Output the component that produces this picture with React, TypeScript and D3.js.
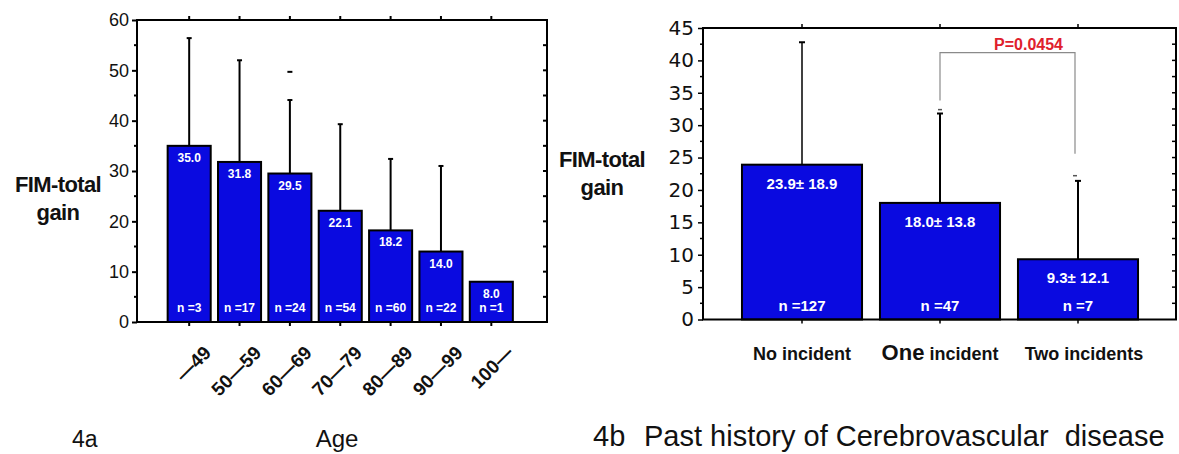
import { useEffect, useRef } from 'react';
import * as d3 from 'd3';

// 4a: FIM-total gain by age group
const ageGroups = ['—49', '50—59', '60—69', '70—79', '80—89', '90—99', '100—'];
const ageMeans = [35.0, 31.8, 29.5, 22.1, 18.2, 14.0, 8.0];
const ageSD = [21.4, 20.2, 14.6, 17.2, 14.2, 17.0, 0];
const ageN = [3, 17, 24, 54, 60, 22, 1];
const ageStrayMarks = [null, null, 49.7, null, null, null, null];

// 4b: past history of cerebrovascular disease
const historyGroups = ['No incident', 'One incident', 'Two incidents'];
const historyMeans = [23.9, 18.0, 9.3];
const historySD = [18.9, 13.8, 12.1];
const historyN = [127, 47, 7];
const bracketLevels = [41.2, 33.8, 25.6]; // top, left leg end, right leg end
const bracketMarks = [32.4, 22.2];
const pValueLabel = 'P=0.0454';

const BLUE = '#0a0ae0';
const ARIAL = 'Arial, "Liberation Sans", sans-serif';

export default function App() {
    const svgRef = useRef(null);

    useEffect(() => {
        const svg = d3.select(svgRef.current);
        svg.selectAll('*').remove();

        // ---------- 4a ----------
        const L = { left: 137, right: 547, top: 20, bottom: 322 };
        const yL = d3.scaleLinear().domain([0, 60]).range([L.bottom, L.top]);
        const xL = d3.scaleBand()
            .domain(ageGroups)
            .range([164, 516.5])
            .paddingInner(0.145)
            .paddingOuter(0.0725);

        const gL = svg.append('g');

        // bars
        gL.selectAll('.barL')
            .data(ageGroups)
            .enter()
            .append('rect')
            .attr('x', d => xL(d))
            .attr('width', xL.bandwidth())
            .attr('y', (d, i) => yL(ageMeans[i]))
            .attr('height', (d, i) => yL(0) - yL(ageMeans[i]))
            .attr('fill', BLUE)
            .attr('stroke', '#000')
            .attr('stroke-width', 2);

        // error bars (upper half only)
        ageGroups.forEach((d, i) => {
            if (!ageSD[i]) return;
            const cx = xL(d) + xL.bandwidth() / 2;
            const top = yL(ageMeans[i] + ageSD[i]);
            gL.append('line')
                .attr('x1', cx).attr('x2', cx)
                .attr('y1', yL(ageMeans[i])).attr('y2', top)
                .attr('stroke', '#000').attr('stroke-width', 2);
            gL.append('line')
                .attr('x1', cx - 2.5).attr('x2', cx + 2.5)
                .attr('y1', top).attr('y2', top)
                .attr('stroke', '#000').attr('stroke-width', 2);
        });
        ageGroups.forEach((d, i) => {
            if (ageStrayMarks[i] == null) return;
            const cx = xL(d) + xL.bandwidth() / 2;
            gL.append('line')
                .attr('x1', cx - 2.5).attr('x2', cx + 2.5)
                .attr('y1', yL(ageStrayMarks[i])).attr('y2', yL(ageStrayMarks[i]))
                .attr('stroke', '#000').attr('stroke-width', 2);
        });

        // in-bar labels
        gL.selectAll('.valL')
            .data(ageGroups)
            .enter()
            .append('text')
            .attr('x', d => xL(d) + xL.bandwidth() / 2)
            .attr('y', (d, i) => yL(ageMeans[i]) + 16)
            .attr('text-anchor', 'middle')
            .style('font-family', ARIAL)
            .style('font-size', '12px')
            .style('font-weight', 'bold')
            .style('fill', '#fff')
            .text((d, i) => ageMeans[i].toFixed(1));
        gL.selectAll('.nL')
            .data(ageGroups)
            .enter()
            .append('text')
            .attr('x', d => xL(d) + xL.bandwidth() / 2)
            .attr('y', yL(0) - 10)
            .attr('text-anchor', 'middle')
            .style('font-family', ARIAL)
            .style('font-size', '12px')
            .style('font-weight', 'bold')
            .style('fill', '#fff')
            .text((d, i) => `n =${ageN[i]}`);

        // frame
        gL.append('rect')
            .attr('x', L.left).attr('y', L.top)
            .attr('width', L.right - L.left).attr('height', L.bottom - L.top)
            .attr('fill', 'none').attr('stroke', '#000').attr('stroke-width', 2);

        // left axis
        gL.append('g')
            .attr('transform', `translate(${L.left},0)`)
            .call(d3.axisLeft(yL).tickValues(d3.range(0, 61, 10)).tickSize(5).tickPadding(3))
            .call(g => {
                g.select('.domain').remove();
                g.selectAll('line').attr('stroke-width', 2);
                g.selectAll('text')
                    .style('font-family', ARIAL)
                    .style('font-size', '18px')
                    .style('fill', '#111');
            });
        gL.append('g')
            .selectAll('line')
            .data(d3.range(5, 60, 10))
            .enter()
            .append('line')
            .attr('x1', L.left - 3).attr('x2', L.left)
            .attr('y1', d => yL(d)).attr('y2', d => yL(d))
            .attr('stroke', '#000').attr('stroke-width', 2);

        // right axis inner ticks
        gL.append('g')
            .selectAll('line')
            .data(d3.range(5, 60, 5))
            .enter()
            .append('line')
            .attr('x1', L.right - 4).attr('x2', L.right)
            .attr('y1', d => yL(d)).attr('y2', d => yL(d))
            .attr('stroke', '#000').attr('stroke-width', 2);

        // category ticks, top & bottom
        ageGroups.forEach(d => {
            const cx = xL(d) + xL.bandwidth() / 2;
            gL.append('line').attr('x1', cx).attr('x2', cx)
                .attr('y1', L.top - 4).attr('y2', L.top)
                .attr('stroke', '#000').attr('stroke-width', 2);
            gL.append('line').attr('x1', cx).attr('x2', cx)
                .attr('y1', L.bottom).attr('y2', L.bottom + 4)
                .attr('stroke', '#000').attr('stroke-width', 2);
        });

        // rotated age labels
        gL.selectAll('.catL')
            .data(ageGroups)
            .enter()
            .append('text')
            .attr('transform', d => `translate(${xL(d) + xL.bandwidth() / 2 + 23},${354}) rotate(-45)`)
            .attr('text-anchor', 'end')
            .style('font-family', ARIAL)
            .style('font-size', '19px')
            .style('font-weight', 'bold')
            .style('fill', '#111')
            .text(d => d);

        // y label
        [['FIM-total', 192], ['gain', 220]].forEach(([t, y]) => {
            gL.append('text')
                .attr('x', 58).attr('y', y)
                .attr('text-anchor', 'middle')
                .style('font-family', ARIAL)
                .style('font-size', '22px')
                .style('font-weight', 'bold')
                .style('letter-spacing', '-0.6px')
                .style('fill', '#111')
                .text(t);
        });

        // ---------- 4b ----------
        const R = { left: 703, right: 1176, top: 28, bottom: 319.5 };
        const yR = d3.scaleLinear().domain([0, 45]).range([R.bottom, R.top]);
        const xR = d3.scaleBand()
            .domain(historyGroups)
            .range([733, 1147])
            .paddingInner(0.13)
            .paddingOuter(0.065);

        const gR = svg.append('g');

        gR.selectAll('.barR')
            .data(historyGroups)
            .enter()
            .append('rect')
            .attr('x', d => xR(d))
            .attr('width', xR.bandwidth())
            .attr('y', (d, i) => yR(historyMeans[i]))
            .attr('height', (d, i) => yR(0) - yR(historyMeans[i]))
            .attr('fill', BLUE)
            .attr('stroke', '#000')
            .attr('stroke-width', 2);

        historyGroups.forEach((d, i) => {
            const cx = xR(d) + xR.bandwidth() / 2;
            const top = yR(historyMeans[i] + historySD[i]);
            gR.append('line')
                .attr('x1', cx).attr('x2', cx)
                .attr('y1', yR(historyMeans[i])).attr('y2', top)
                .attr('stroke', '#000').attr('stroke-width', i === 0 ? 1.5 : 2);
            gR.append('line')
                .attr('x1', cx - 3).attr('x2', cx + 3)
                .attr('y1', top).attr('y2', top)
                .attr('stroke', '#000').attr('stroke-width', 2);
        });

        gR.selectAll('.valR')
            .data(historyGroups)
            .enter()
            .append('text')
            .attr('x', d => xR(d) + xR.bandwidth() / 2)
            .attr('y', (d, i) => yR(historyMeans[i]) + 24)
            .attr('text-anchor', 'middle')
            .style('font-family', ARIAL)
            .style('font-size', '15px')
            .style('font-weight', 'bold')
            .style('fill', '#fff')
            .text((d, i) => `${historyMeans[i].toFixed(1)}± ${historySD[i].toFixed(1)}`);
        gR.selectAll('.nR')
            .data(historyGroups)
            .enter()
            .append('text')
            .attr('x', d => xR(d) + xR.bandwidth() / 2)
            .attr('y', yR(0) - 9)
            .attr('text-anchor', 'middle')
            .style('font-family', ARIAL)
            .style('font-size', '15px')
            .style('font-weight', 'bold')
            .style('fill', '#fff')
            .text((d, i) => `n =${historyN[i]}`);

        // significance bracket
        const bx1 = xR(historyGroups[1]) + xR.bandwidth() / 2;
        const bx2 = xR(historyGroups[2]) + xR.bandwidth() / 2 - 3;
        gR.append('path')
            .attr('d', `M${bx1},${yR(bracketLevels[1])}V${yR(bracketLevels[0])}H${bx2}V${yR(bracketLevels[2])}`)
            .attr('fill', 'none')
            .attr('stroke', '#8a8a8a')
            .attr('stroke-width', 1.2);
        [bx1, bx2].forEach((x, i) => {
            gR.append('line')
                .attr('x1', x - 2).attr('x2', x + 2)
                .attr('y1', yR(bracketMarks[i])).attr('y2', yR(bracketMarks[i]))
                .attr('stroke', '#555').attr('stroke-width', 1.5);
        });
        gR.append('text')
            .attr('x', (bx1 + bx2) / 2 + 21)
            .attr('y', 50)
            .attr('text-anchor', 'middle')
            .style('font-family', ARIAL)
            .style('font-size', '16px')
            .style('font-weight', 'bold')
            .style('fill', '#e0202c')
            .text(pValueLabel);

        // frame
        gR.append('rect')
            .attr('x', R.left).attr('y', R.top)
            .attr('width', R.right - R.left).attr('height', R.bottom - R.top)
            .attr('fill', 'none').attr('stroke', '#000').attr('stroke-width', 2);

        gR.append('g')
            .attr('transform', `translate(${R.left},0)`)
            .call(d3.axisLeft(yR).tickValues(d3.range(0, 46, 5)).tickSize(5).tickPadding(4))
            .call(g => {
                g.select('.domain').remove();
                g.selectAll('line').attr('stroke-width', 1.5);
                g.selectAll('text')
                    .style('font-family', '"DejaVu Sans", sans-serif')
                    .style('font-size', '20px')
                    .style('fill', '#111');
            });
        gR.append('g')
            .selectAll('line')
            .data(d3.range(2.5, 45, 5))
            .enter()
            .append('line')
            .attr('x1', R.left - 3).attr('x2', R.left)
            .attr('y1', d => yR(d)).attr('y2', d => yR(d))
            .attr('stroke', '#000').attr('stroke-width', 1.5);
        gR.append('g')
            .selectAll('line')
            .data(d3.range(2.5, 45, 2.5))
            .enter()
            .append('line')
            .attr('x1', R.right - 4).attr('x2', R.right)
            .attr('y1', d => yR(d)).attr('y2', d => yR(d))
            .attr('stroke', '#000').attr('stroke-width', 1.5);

        historyGroups.forEach(d => {
            const cx = xR(d) + xR.bandwidth() / 2;
            gR.append('line').attr('x1', cx).attr('x2', cx)
                .attr('y1', R.top - 4).attr('y2', R.top)
                .attr('stroke', '#000').attr('stroke-width', 1.5);
            gR.append('line').attr('x1', cx).attr('x2', cx)
                .attr('y1', R.bottom).attr('y2', R.bottom + 4)
                .attr('stroke', '#000').attr('stroke-width', 1.5);
        });

        // category labels ("One" is set larger in the original)
        const catR = gR.selectAll('.catR')
            .data(historyGroups)
            .enter()
            .append('text')
            .attr('x', (d, i) => xR(d) + xR.bandwidth() / 2 + (i === 2 ? 6 : 0))
            .attr('y', 360)
            .attr('text-anchor', 'middle')
            .style('font-family', ARIAL)
            .style('font-size', '18px')
            .style('font-weight', 'bold')
            .style('fill', '#111');
        catR.each(function (d) {
            const t = d3.select(this);
            if (d.startsWith('One ')) {
                t.append('tspan').style('font-size', '22px').text('One');
                t.append('tspan').text(d.slice(3));
            } else {
                t.text(d);
            }
        });

        [['FIM-total', 167], ['gain', 195]].forEach(([t, y]) => {
            gR.append('text')
                .attr('x', 602).attr('y', y)
                .attr('text-anchor', 'middle')
                .style('font-family', ARIAL)
                .style('font-size', '22px')
                .style('font-weight', 'bold')
                .style('letter-spacing', '-0.6px')
                .style('fill', '#111')
                .text(t);
        });

        // captions
        const caption = (x, y, text, anchor, size) =>
            svg.append('text')
                .attr('x', x).attr('y', y)
                .attr('text-anchor', anchor)
                .style('font-family', ARIAL)
                .style('font-size', size)
                .style('fill', '#111')
                .text(text);
        caption(72, 447, '4a', 'start', '23px');
        caption(337, 447, 'Age', 'middle', '24px');
        caption(593, 446, '4b', 'start', '29px');
        caption(644, 446, 'Past history of Cerebrovascular\u00a0 disease', 'start', '29px');
    }, []);

    return (
        <div style={{ width: 1179, height: 454 }}>
            <style>{'body{margin:0;background:#fff}'}</style>
            <svg ref={svgRef} width={1179} height={454} style={{ display: 'block' }} />
        </div>
    );
}
